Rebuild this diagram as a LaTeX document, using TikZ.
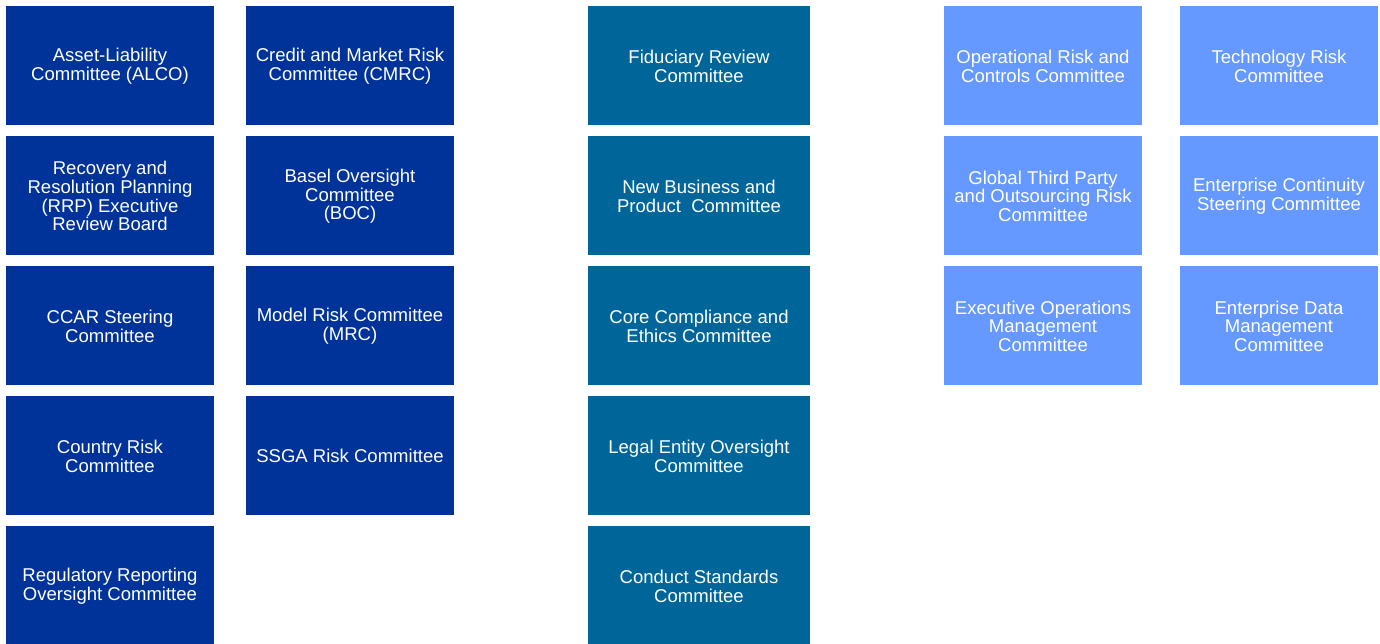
\documentclass[tikz,border=0pt]{standalone}
\usepackage{fontspec}
\setmainfont{Liberation Sans}
\definecolor{dblue}{HTML}{003399}
\definecolor{teal}{HTML}{006699}
\definecolor{lblue}{HTML}{6699FF}
\begin{document}
\begin{tikzpicture}[x=0.75pt,y=-0.75pt,
  box/.style={fill=#1,draw=none,inner sep=0pt,minimum height=89.25pt},
  c1/.style={box=dblue,minimum width=156pt},
  c3/.style={box=teal,minimum width=166.5pt},
  c4/.style={box=lblue,minimum width=148.5pt},
  txt/.style={text=white,align=center,inner sep=0pt,yshift=-0.6pt,
    font=\fontsize{13.9}{14.0}\selectfont}]
\useasboundingbox (0,0) rectangle (1380,643);
\clip (0,0) rectangle (1380,643);
% column 1
\node[c1] (alco) at (110,65.5) {};
\node[txt] (alcot) at (alco.center) {Asset-Liability\\Committee (ALCO)};
\node[c1] (rrp) at (110,195.5) {};
\node[txt] (rrpt) at (rrp.center) {Recovery and\\Resolution Planning\\(RRP) Executive\\Review Board};
\node[c1] (ccar) at (110,325.5) {};
\node[txt] (ccart) at (ccar.center) {CCAR Steering\\Committee};
\node[c1] (crc) at (110,455.5) {};
\node[txt] (crct) at (crc.center) {Country Risk\\Committee};
\node[c1] (rroc) at (110,585.5) {};
\node[txt] (rroct) at (rroc.center) {Regulatory Reporting\\Oversight Committee};
% column 2
\node[c1] (cmrc) at (350,65.5) {};
\node[txt] (cmrct) at (cmrc.center) {Credit and Market Risk\\Committee (CMRC)};
\node[c1] (boc) at (350,195.5) {};
\node[txt] (boct) at (boc.center) {Basel Oversight\\Committee\\(BOC)};
\node[c1] (mrc) at (350,325.5) {};
\node[txt] (mrct) at (mrc.center) {Model Risk Committee\\(MRC)};
\node[c1] (ssga) at (350,455.5) {};
\node[txt] (ssgat) at (ssga.center) {SSGA Risk Committee};
% column 3
\node[c3] (frc) at (699,65.5) {};
\node[txt] (frct) at (frc.center) {Fiduciary Review\\Committee};
\node[c3] (nbpc) at (699,195.5) {};
\node[txt] (nbpct) at (nbpc.center) {New Business and\\Product~ Committee};
\node[c3] (ccec) at (699,325.5) {};
\node[txt] (ccect) at (ccec.center) {Core Compliance and\\Ethics Committee};
\node[c3] (leoc) at (699,455.5) {};
\node[txt] (leoct) at (leoc.center) {Legal Entity Oversight\\Committee};
\node[c3] (csc) at (699,585.5) {};
\node[txt] (csct) at (csc.center) {Conduct Standards\\Committee};
% column 4
\node[c4] (orcc) at (1043,65.5) {};
\node[txt] (orcct) at (orcc.center) {Operational Risk and\\Controls Committee};
\node[c4] (gtp) at (1043,195.5) {};
\node[txt] (gtpt) at (gtp.center) {Global Third Party\\and Outsourcing Risk\\Committee};
\node[c4] (eomc) at (1043,325.5) {};
\node[txt] (eomct) at (eomc.center) {Executive Operations\\Management\\Committee};
% column 5
\node[c4] (trc) at (1279,65.5) {};
\node[txt] (trct) at (trc.center) {Technology Risk\\Committee};
\node[c4] (ecsc) at (1279,195.5) {};
\node[txt] (ecsct) at (ecsc.center) {Enterprise Continuity\\Steering Committee};
\node[c4] (edmc) at (1279,325.5) {};
\node[txt] (edmct) at (edmc.center) {Enterprise Data\\Management\\Committee};
\end{tikzpicture}
\end{document}
